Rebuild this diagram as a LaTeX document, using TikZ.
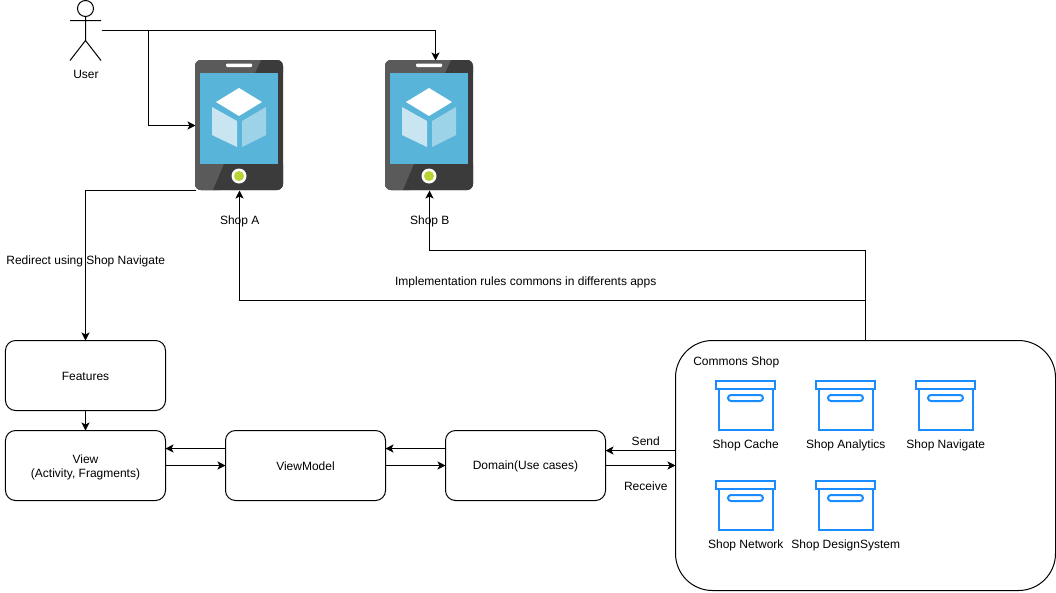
\documentclass[tikz,border=0pt]{standalone}
\usepackage{fontspec}
\setmainfont{Liberation Sans}
\usetikzlibrary{arrows.meta,calc}
\definecolor{phonedark}{HTML}{3B3B3B}
\definecolor{phonelight}{HTML}{5A5A5A}
\definecolor{screenblue}{HTML}{59B4D9}
\definecolor{faceone}{HTML}{C9E5F2}
\definecolor{facetwo}{HTML}{9CD3E8}
\definecolor{btngreen}{HTML}{B8D432}
\definecolor{boxblue}{HTML}{1A8CFF}
\newcommand{\lowertext}[2]{\raisebox{-#1pt}[\height][\depth]{#2}}
\tikzset{
  x=1pt,y=-1pt,
  every node/.style={font=\fontsize{12}{14}\selectfont,inner sep=0pt,outer sep=0pt},
  flowbox/.style={draw=black,line width=1pt,rounded corners=10pt,minimum width=160pt,minimum height=70pt,align=center},
  link/.style={draw=black,line width=1pt,-{Stealth[length=8pt,width=8pt,inset=2pt]}},
  plainlink/.style={draw=black,line width=1pt},
  phonebody/.style={rounded corners=6pt,minimum width=88pt,minimum height=130pt},
  iconline/.style={draw=boxblue,line width=2pt},
}
\newcommand{\phoneicon}[2]{%
\begin{scope}[shift={(#1-0.5,59.5)}]
  \fill[phonedark,rounded corners=6pt] (0,0) rectangle (88,130);
  \begin{scope}
    \clip[rounded corners=6pt] (0,0) rectangle (88,130);
    \fill[phonelight] (0,0) -- (71,0) -- (63,13) -- (24,130) -- (0,130) -- cycle;
    \fill[phonedark!80!white] (71,0) -- (88,0) -- (88,13) -- (65,13) -- cycle;
    \fill[phonelight] (0,104) -- (29,104) -- (18,130) -- (0,130) -- cycle;
    \fill[phonedark] (29,104) -- (88,104) -- (88,130) -- (18,130) -- cycle;
    \fill[phonedark] (5,0) -- (88,0) -- (88,13) -- (5,13) -- cycle;
    \fill[phonelight] (0,0) -- (66,0) -- (60,13) -- (0,13) -- cycle;
    \fill[phonelight] (0,13) rectangle (5,104);
    \fill[phonedark] (83,13) rectangle (88,104);
  \end{scope}
  \fill[screenblue] (5,13) rectangle (83,104);
  \fill[white,rounded corners=1pt] (31,3.5) rectangle (57,7);
  \fill[white] (44,28) -- (67,42) -- (44,56) -- (21,42) -- cycle;
  \fill[faceone] (17,47) -- (42,61) -- (42,87) -- (17,75) -- cycle;
  \fill[facetwo] (47,61) -- (71,47) -- (71,75) -- (47,87) -- cycle;
  \fill[white] (44,116) circle (7.5);
  \fill[btngreen] (44,116) circle (5);
\end{scope}}
\newcommand{\archive}[2]{%
\begin{scope}[shift={(#1-0.5,#2-0.5)}]
  \draw[iconline] (3.5,8.5) rectangle (57.5,50);
  \draw[iconline,fill=white] (1,0.5) rectangle (60,8.5);
  \draw[iconline,rounded corners=3pt] (13,15) rectangle (48,21);
\end{scope}}
\begin{document}
\begin{tikzpicture}
\useasboundingbox (-0.5,-0.5) rectangle (1055.5,591.5);
% actor
\node[draw=black,line width=1pt,circle,minimum size=16pt,fill=white] (head) at (85,8) {};
\coordinate (hip) at (85,40);
\coordinate (handl) at (69.5,20);
\coordinate (handr) at (100.5,20);
\coordinate (footl) at (69.5,60);
\coordinate (footr) at (100.5,60);
\draw[plainlink] (head.south) -- (hip) (handl) -- (handr) (footl) -- (hip) -- (footr);
\node (userlabel) at (85.5,73.5) {User};
\coordinate (userout) at (101,30);
% phones
\phoneicon{195}{A}
\phoneicon{385}{B}
\node[phonebody] (shopa) at (239,125) {};
\node[phonebody] (shopb) at (429,125) {};
\node (shopalabel) at (239.25,221) {Shop A};
\node (shopblabel) at (429.25,221) {Shop B};
% boxes
\node[flowbox] (features) at (85,375) {\lowertext{1}{Features}};
\node[flowbox] (view) at (85,465) {\lowertext{1.5}{View}\\\lowertext{1.5}{(Activity, Fragments)}};
\node[flowbox] (viewmodel) at (305,465) {\lowertext{1}{ViewModel}};
\node[flowbox] (domain) at (525,465) {\lowertext{1}{Domain(Use cases)}};
\node[draw=black,line width=1pt,rounded corners=37pt,minimum width=380pt,minimum height=250pt] (commons) at (865,465) {};
\node[anchor=west] (commonstitle) at (692.75,361.5) {Commons Shop};
% archives
\archive{715}{380}
\archive{815}{380}
\archive{915}{380}
\archive{715}{480}
\archive{815}{480}
\node (c1) at (745.25,444.5) {Shop Cache};
\node (c2) at (845.25,444.5) {Shop Analytics};
\node (c3) at (945.25,444.5) {Shop Navigate};
\node (c4) at (745.25,544.5) {Shop Network};
\node (c5) at (845.25,544.5) {Shop DesignSystem};
% connectors
\draw[link] (userout) -| ([xshift=6pt]shopb.north);
\coordinate (branch) at (148,30);
\draw[plainlink] (userout) -- (branch);
\draw[link] (branch) |- (shopa.west);
\draw[link] (shopa.south west) -| (features.north);
\draw[link] (features.south) -- (view.north);
\draw[link] ([yshift=17pt]viewmodel.west) -- ([yshift=17pt]view.east);
\draw[link] (view.east) -- (viewmodel.west);
\draw[link] ([yshift=17pt]domain.west) -- ([yshift=17pt]viewmodel.east);
\draw[link] (viewmodel.east) -- (domain.west);
\draw[link] ([yshift=15pt]commons.west) -- ([yshift=15pt]domain.east);
\draw[link] (domain.east) -- (commons.west);
\coordinate (split) at (865,300);
\draw[link] (commons.north) |- (429,250) -- (shopb.south);
\draw[link] (split) -| (shopa.south);
% labels
\node (redirect) at (85.25,261) {Redirect using Shop Navigate};
\node (rules) at (525.25,281.5) {Implementation rules commons in differents apps};
\node (send) at (645.25,441) {Send};
\node (receive) at (645.25,486) {Receive};
\end{tikzpicture}
\end{document}
